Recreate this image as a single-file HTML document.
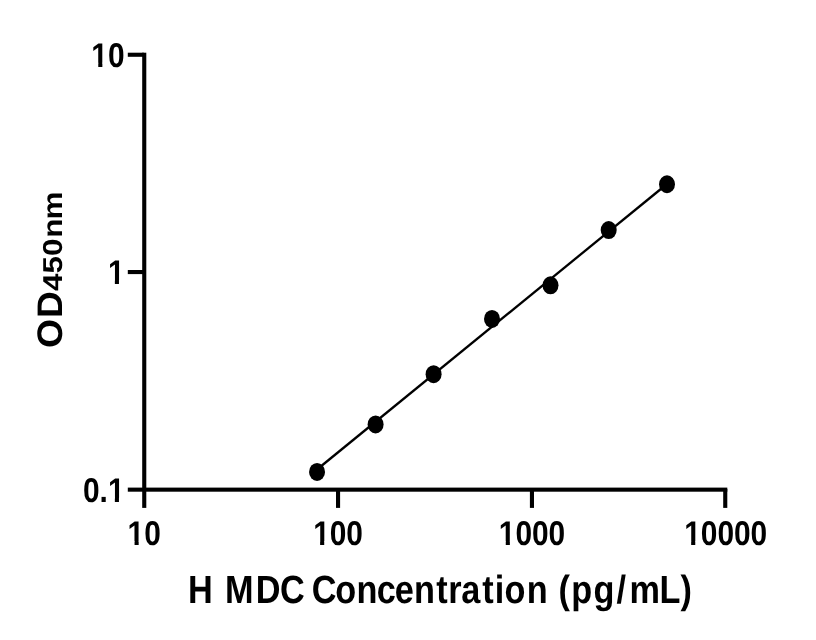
<!DOCTYPE html>
<html lang="en">
<head>
<meta charset="utf-8">
<title>H MDC Concentration standard curve</title>
<style>
html,body{margin:0;padding:0;background:#fff;}
body{width:816px;height:640px;overflow:hidden;}
svg{display:block;}
text{font-family:"Liberation Sans",sans-serif;font-weight:bold;fill:#000;text-rendering:geometricPrecision;}
</style>
</head>
<body>
<svg width="816" height="640" viewBox="0 0 816 640">
<rect x="0" y="0" width="816" height="640" fill="#fff"/>
<!-- axes -->
<g fill="#000">
<rect x="142.2" y="52.7" width="4.1" height="455.2"/>
<rect x="127.8" y="487.6" width="599.5" height="4.1"/>
<rect x="127.8" y="52.7" width="16" height="4.1"/>
<rect x="127.8" y="270" width="16" height="4.1"/>
<rect x="336" y="489" width="4.1" height="18.9"/>
<rect x="529.9" y="489" width="4.1" height="18.9"/>
<rect x="723.2" y="489" width="4.1" height="18.9"/>
</g>
<!-- fit line and points -->
<line x1="317" y1="469.5" x2="667" y2="184" stroke="#000" stroke-width="2.3"/>
<g fill="#000">
<ellipse cx="317.05" cy="471.9" rx="8" ry="9"/>
<ellipse cx="375.6" cy="424.4" rx="8" ry="9"/>
<ellipse cx="433.6" cy="374.2" rx="8" ry="9"/>
<ellipse cx="492" cy="318.9" rx="8" ry="9"/>
<ellipse cx="550.5" cy="285.3" rx="8" ry="9"/>
<ellipse cx="608.7" cy="230.1" rx="8" ry="9"/>
<ellipse cx="667" cy="184.25" rx="8" ry="9"/>
</g>
<!-- tick labels (Liberation "1" foot trimmed with a clip so it matches the footless numeral) -->
<defs>
<clipPath id="c1"><rect x="-5" y="-40" width="205" height="35.9"/><rect x="8" y="-4.2" width="4.72" height="5.6"/><rect x="19.08" y="-4.2" width="180" height="5.6"/></clipPath>
<clipPath id="c01"><rect x="-5" y="-40" width="205" height="35.9"/><rect x="-5" y="-4.2" width="33.6" height="5.6"/><rect x="36.61" y="-4.2" width="4.72" height="5.6"/></clipPath>
</defs>
<g font-size="34.3">
<text clip-path="url(#c1)" transform="translate(91.3,66.8) scale(0.87,1)">10</text>
<text clip-path="url(#c1)" transform="translate(107.9,284.1) scale(0.87,1)">1</text>
<text clip-path="url(#c01)" transform="translate(83,501.7) scale(0.87,1)">0.1</text>
<text clip-path="url(#c1)" transform="translate(127.6,545) scale(0.87,1)">10</text>
<text clip-path="url(#c1)" transform="translate(313.15,545) scale(0.87,1)">100</text>
<text clip-path="url(#c1)" transform="translate(498.8,545) scale(0.87,1)">1000</text>
<text clip-path="url(#c1)" transform="translate(684.2,545) scale(0.87,1)">10000</text>
</g>
<!-- x title -->
<text font-size="39.4" transform="translate(187,602.5) scale(0.87,1)" x="1.07 29.52 43.70 79.02 106.77 135.22 143.49 170.32 194.90 218.05 238.78 261.05 286.60 300.41 315.30 339.47 353.80 364.98 390.48 414.54 427.08 441.73 467.33 493.66 508.50 543.12 567.28">H MDC Concentration (pg/mL)</text>
<!-- y title -->
<text font-size="37.3" transform="translate(62.3,347.45) rotate(-90) scale(1,0.951)" x="-0.5 29.4">OD</text>
<text font-size="31.4" transform="translate(62.3,291.2) rotate(-90) scale(1,0.87)" x="0.1 17.7 35.3 53.4 71.7">450nm</text>
</svg>
</body>
</html>
